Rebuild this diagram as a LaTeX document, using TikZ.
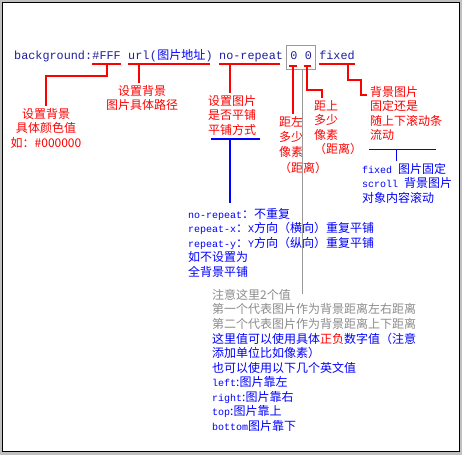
\documentclass[tikz,border=0pt]{standalone}
\usepackage{fontspec}
\usepackage{tikz}
\usepackage{xcolor}
\usetikzlibrary{calc,positioning}
\setmainfont{Noto Sans CJK SC}
\setmonofont{Liberation Mono}
\definecolor{codeblue}{HTML}{1F1F9F}
\definecolor{noteblue}{HTML}{0000FF}
\definecolor{notered}{HTML}{FF0000}
\definecolor{notegray}{HTML}{8C8C8C}
\definecolor{linegray}{HTML}{9A9A9A}
\definecolor{framegray}{HTML}{C0C0C0}
\newcommand{\kw}[1]{{\ttfamily\fontsize{10}{14.5}\selectfont #1}}

\begin{document}
\begin{tikzpicture}[x=1pt,y=-1pt,
 code/.style={anchor=base west,inner sep=0pt,text=codeblue,font=\ttfamily\fontsize{11.8}{14}\selectfont},
 note/.style={inner sep=0pt,inner ysep=2.5pt,font=\fontsize{12}{14.5}\selectfont},
 rednote/.style={note,text=notered,align=center,anchor=north},
 redleft/.style={note,text=notered,align=left,anchor=north west},
 bluelist/.style={note,text=noteblue,align=left,anchor=north west},
 redline/.style={draw=notered,line width=2pt},
 blueline/.style={draw=noteblue,line width=2pt},
 thinblue/.style={draw=noteblue,line width=1pt},
 grayline/.style={draw=linegray,line width=1pt}
]
\useasboundingbox (0,0) rectangle (462,455);
\fill[framegray] (0,0) rectangle (462,455);
\draw[black,fill=white,line width=1pt] (2.5,2.5) rectangle (459.5,451.5);

% the css line
\node[code] (bg) at (14,59) {background:};
\node[code,base right=0pt of bg] (fff) {\#FFF};
\node[code,base right=7pt of fff] (url) {url};
\node[code,base right=0pt of url] (lpar) {(};
\node[code,base right=0pt of lpar,text=noteblue,font=\fontsize{12}{14}\selectfont] (addr) {图片地址};
\node[code,base right=0pt of addr] (rpar) {)};
\node[code,base right=6pt of rpar] (norep) {no-repeat};
\node[code,base right=7pt of norep] (zeroa) {0};
\node[code,base right=7pt of zeroa] (zerob) {0};
\node[code,base right=7pt of zerob] (fixed) {fixed};
\node[draw=linegray,line width=1pt,inner sep=0pt,minimum width=29pt,minimum height=24pt] (zbox) at ($(zeroa.base east)!0.5!(zerob.base west)+(0,-2)$) {};

\draw[redline] ($(fff.base west)+(0,5)$) -- ($(fff.base east)+(0,5)$);
\draw[redline] ($(url.base west)+(0,5)$) -- ($(rpar.base east)+(-3,5)$);
\draw[redline] ($(norep.base west)+(0,5)$) -- ($(norep.base east)+(-3,5)$);
\draw[redline] ($(zeroa.base west)+(-1,7)$) -- ($(zeroa.base east)+(-1,7)$);
\draw[redline] ($(zerob.base west)+(-1,7)$) -- ($(zerob.base east)+(-1,7)$);
\draw[redline] ($(fixed.base west)+(0,5)$) -- ($(fixed.base east)+(0,5)$);

% red notes
\node[rednote] (colnote) at (46,105.5) {设置背景\\具体颜色值\\如：\#000000};
\node[rednote] (urlnote) at (142,82.5) {设置背景\\图片具体路径};
\node[rednote] (repnote) at (232,92.5) {设置图片\\是否平铺\\平铺方式};
\node[redleft,font=\fontsize{12}{15.3}\selectfont] (zanote) at (279,113.5) {距左\\多少\\像素\\（距离）};
\node[redleft] (zbnote) at (314,97.5) {距上\\多少\\像素\\（距离）};
\node[redleft] (fxnote) at (370,83.5) {背景图片\\固定还是\\随上下滚动条\\流动};

\draw[redline] ($(fff.base)+(0,5)$) -- ++(0,12) -| (colnote.north);
\draw[redline] ($(url.base)+(0,5)$) -- (url.base |- urlnote.north);
\coordinate (repu) at ($(norep.base west)+(11,5)$);
\draw[redline] (repu) -- (repu |- repnote.north);
\coordinate (zau) at ($(zeroa.base)+(-1,7)$);
\draw[redline] (zau) -- (zau |- zanote.north);
\coordinate (zbu) at ($(zerob.base)+(-1,7)$);
\draw[redline] (zbu) -- ++(0,24) -| ($(zbnote.north west)+(8,0)$);
\coordinate (fxu) at ($(fixed.base west)+(29,5)$);
\draw[redline] (fxu) -- ++(0,16) -| ($(fxnote.north west)+(-9,11.5)$) -- ($(fxnote.north west)+(-3,11.5)$);

% blue lists
\node[bluelist] (replist) at (188,205.5) {\kw{no-repeat}：不重复\\
 \kw{repeat-x}：\kw{X}方向（横向）重复平铺\\
 \kw{repeat-y}：\kw{Y}方向（纵向）重复平铺\\
 如不设置为\\
 全背景平铺};
\node[bluelist] (fxlist) at (362,160.5) {\kw{fixed\ }图片固定\\
 \kw{scroll\ }背景图片\\
 对象内容滚动};

\coordinate (repbar) at ($(repnote.south)+(-2,1)$);
\draw[blueline] ($(repbar)+(-19,0)$) -- ($(repbar)+(30,0)$);
\draw[blueline] (repbar) -- ($(repbar |- replist.north)+(0,-3)$);
\coordinate (fxbar) at ($(fxnote.south west)+(26,6.5)$);
\draw[thinblue] ($(fxbar)+(-27,0)$) -- ($(fxbar)+(40,0)$);
\draw[thinblue] (fxbar) -- (fxbar |- fxlist.north);

% note on the two values
\node[note,text=notegray,align=left,anchor=north west] (graynote) at (212,286.5) {注意这里2个值\\
 第一个代表图片作为背景距离左右距离\\
 第二个代表图片作为背景距离上下距离};
\node[bluelist] (bluenote) at (212,330.5) {这里值可以使用具体{\color{notered}正负}数字值（注意\\
 添加单位比如像素）\\
 也可以使用以下几个英文值\\
 \kw{left}:图片靠左\\
 \kw{right}:图片靠右\\
 \kw{top}:图片靠上\\
 \kw{bottom}图片靠下};
\coordinate (grayend) at ($(zbox.south)+(1,224)$);
\draw[grayline] ($(zbox.south)+(1,0)$) -- (grayend);
\end{tikzpicture}
\end{document}
